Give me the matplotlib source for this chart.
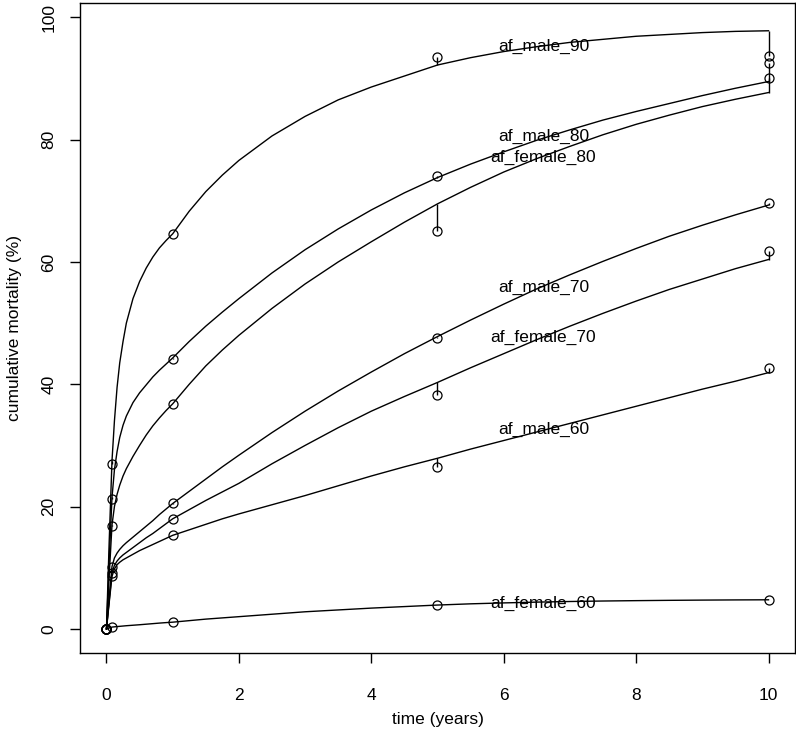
#########################################################################################
### Imports
#########################################################################################
import numpy as np
import matplotlib
matplotlib.use("Agg")
import matplotlib.pyplot as plt

plt.rcParams['font.family'] = ['Liberation Sans', 'DejaVu Sans']

#########################################################################################
### Data
#########################################################################################
names = ["af_male_90", "af_male_80", "af_female_80", "af_male_70",
         "af_female_70", "af_male_60", "af_female_60"]

# time grid of the fitted curves (years)
curve_t = [0, 0.02, 0.04, 1/12, 0.12, 0.16, 0.2, 0.25, 0.3, 0.4, 0.5, 0.6, 0.7, 0.8, 0.9, 1,
           1.25, 1.5, 1.75, 2, 2.5, 3, 3.5, 4, 4.5, 5, 5.5, 6, 6.5, 7, 7.5, 8, 8.5, 9, 9.5, 10]

fit_male_90 = [0, 7, 14, 27.5, 34, 39.5, 43.5, 47, 50, 54, 56.8, 59, 60.8, 62.3, 63.5, 64.6,
               68.3, 71.5, 74.2, 76.6, 80.6, 83.8, 86.5, 88.6, 90.4, 92.2, 93.4, 94.4, 95.2, 95.9,
               96.4, 96.9, 97.2, 97.5, 97.7, 97.8]
fit_male_80 = [0, 5.5, 11, 21.5, 26, 29, 31.3, 33.3, 34.8, 37, 38.6, 39.9, 41.2, 42.3, 43.3, 44.3,
               47, 49.5, 51.8, 54, 58.2, 62, 65.4, 68.5, 71.3, 73.8, 76, 78, 79.9, 81.6,
               83.2, 84.6, 85.9, 87.2, 88.4, 89.5]
fit_female_80 = [0, 4, 8.5, 17, 20, 22, 23.5, 25, 26.2, 28.2, 30, 31.7, 33.2, 34.5, 35.7, 36.8,
                 40, 43, 45.6, 48, 52.4, 56.4, 60, 63.3, 66.5, 69.5, 72.2, 74.7, 76.9, 78.9,
                 80.8, 82.5, 84, 85.4, 86.6, 87.7]
fit_male_70 = [0, 2.5, 5, 10.2, 11.6, 12.4, 13.0, 13.6, 14.1, 15.0, 15.9, 16.8, 17.7, 18.7, 19.6, 20.5,
               22.5, 24.5, 26.5, 28.4, 32.1, 35.6, 38.9, 42, 45, 47.8, 50.5, 53.1, 55.6, 57.9,
               60.1, 62.2, 64.2, 66, 67.7, 69.3]
fit_female_70 = [0, 2.3, 4.5, 9.2, 10.4, 11.1, 11.6, 12.1, 12.5, 13.3, 14.1, 14.9, 15.6, 16.4, 17.2, 18.0,
                 19.5, 21, 22.4, 23.8, 27, 30, 32.9, 35.6, 38.0, 40.3, 42.7, 45.0, 47.3, 49.5,
                 51.6, 53.6, 55.5, 57.2, 58.9, 60.4]
fit_male_60 = [0, 2.1, 4.2, 8.6, 9.8, 10.5, 10.9, 11.3, 11.6, 12.2, 12.8, 13.3, 13.8, 14.3, 14.8, 15.3,
               16.2, 17.1, 18.0, 18.8, 20.3, 21.8, 23.4, 25, 26.5, 27.9, 29.4, 30.8, 32.2, 33.6,
               35, 36.4, 37.8, 39.2, 40.5, 41.9]
fit_female_60 = [0, 0.07, 0.14, 0.3, 0.34, 0.38, 0.42, 0.47, 0.52, 0.6, 0.68, 0.77, 0.86, 0.95, 1.03, 1.1,
                 1.35, 1.6, 1.8, 2.0, 2.4, 2.8, 3.1, 3.4, 3.65, 3.9, 4.1, 4.25, 4.38, 4.48,
                 4.56, 4.62, 4.67, 4.71, 4.74, 4.76]

# observed cumulative mortality (%)
obs_t = [0, 1/12, 1, 5, 10]
obs_male_90 = [0, 27.0, 64.5, 93.5, 93.6]
obs_male_80 = [0, 21.3, 44.1, 74.0, 90.0]
obs_female_80 = [0, 16.9, 36.7, 65.1, 92.6]
obs_male_70 = [0, 10.2, 20.6, 47.6, 69.6]
obs_female_70 = [0, 9.2, 18.0, 38.3, 61.8]
obs_male_60 = [0, 8.6, 15.3, 26.5, 42.7]
obs_female_60 = [0, 0.3, 1.1, 3.9, 4.7]

label_t = 6.6
label_y = [95.3, 80.6, 77.1, 55.8, 47.6, 32.6, 4.2]

fits = [fit_male_90, fit_male_80, fit_female_80, fit_male_70, fit_female_70, fit_male_60, fit_female_60]
obs = [obs_male_90, obs_male_80, obs_female_80, obs_male_70, obs_female_70, obs_male_60, obs_female_60]

#########################################################################################
### Plot
#########################################################################################
W, H = 796, 738
fig = plt.figure(figsize=(W/100, H/100), dpi=100)
ax = fig.add_axes([80/W, 1 - 653/H, 715/W, 650/H])

# index of each observation time in the curve grid
idx = [int(np.argmin(np.abs(np.array(curve_t) - t))) for t in obs_t]

for name, f, o, ly in zip(names, fits, obs, label_y):
    ax.plot(curve_t, f, color="black", lw=1.0)
    ax.plot(obs_t, o, ls="none", marker="o", ms=6.5, mfc="none", mec="black", mew=0.9)
    # residual segments point -> curve
    ax.vlines(obs_t, o, [f[i] for i in idx], color="black", lw=1.0)
    ax.text(label_t, ly, name, ha="center", va="center", fontsize=12.5)

# R style 4% padding around 0..98.4
ax.set_xlim(-0.4, 10.4)
ax.set_ylim(-3.94, 102.34)

ax.set_xticks([0, 2, 4, 6, 8, 10])
ax.set_yticks([0, 20, 40, 60, 80, 100])
ax.tick_params(direction="out", length=7, width=1, labelsize=12.5)
ax.tick_params(axis="x", pad=18)
ax.tick_params(axis="y", pad=10)
for lab in ax.get_yticklabels():
    lab.set_rotation(90)
    lab.set_va("center")
for s in ax.spines.values():
    s.set_linewidth(1.0)

ax.set_xlabel("time (years)", fontsize=12.5, labelpad=7)
ax.set_ylabel("cumulative mortality (%)", fontsize=12.5, labelpad=14)

fig.savefig("out.png", dpi=100)
